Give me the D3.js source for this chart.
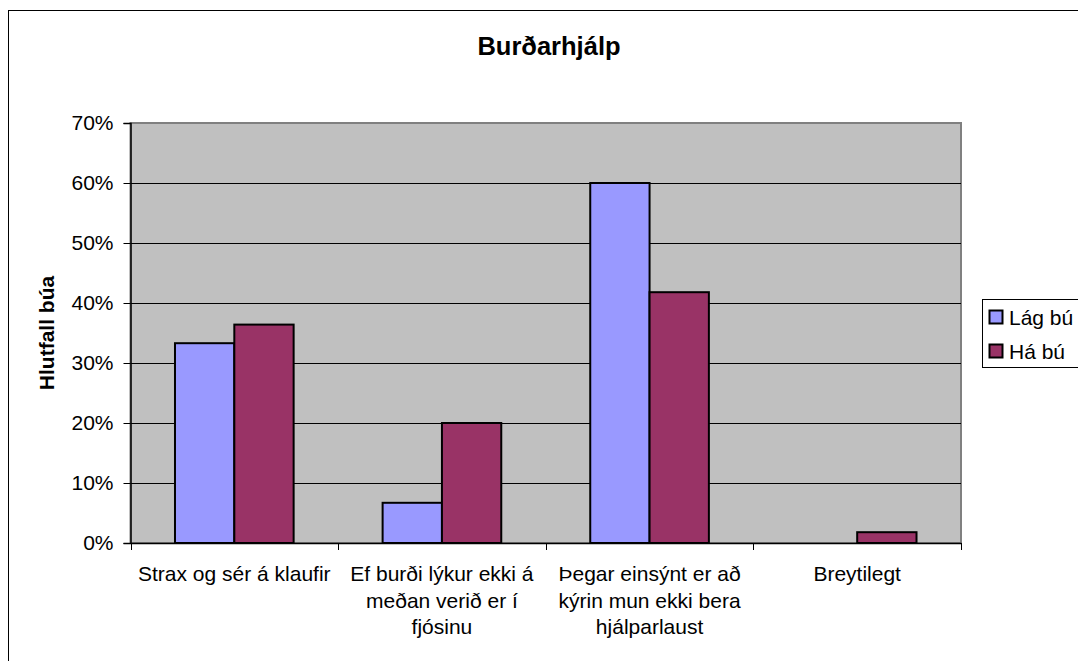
<!DOCTYPE html>
<html>
<head>
<meta charset="utf-8">
<script src="https://cdn.jsdelivr.net/npm/d3@7.9.0/dist/d3.min.js"></script>
<style>
  body { margin: 0; background: #fff; }
  svg { display: block; font-family: Arial, "Liberation Sans", sans-serif; }
</style>
</head>
<body>
<svg id="chart" width="1078" height="661"></svg>
<script>
const categories = [
  "Strax og sér á klaufir",
  "Ef burði lýkur ekki á\nmeðan verið er í\nfjósinu",
  "Þegar einsýnt er að\nkýrin mun ekki bera\nhjálparlaust",
  "Breytilegt"
];
const seriesNames = ["Lág bú", "Há bú"];
const lagBu = [0.333, 0.067, 0.60, 0.0];
const haBu = [0.364, 0.20, 0.418, 0.018];
const yTicks = [0, 0.1, 0.2, 0.3, 0.4, 0.5, 0.6, 0.7];
const colors = ["#9999FF", "#993366"];

const svg = d3.select('#chart');
const plot = { left: 130.5, top: 123, right: 961, bottom: 543 };
const fontSize = 21;

// outer chart border (clipped by window)
svg.append('rect')
  .attr('x', 8.5).attr('y', 10.5)
  .attr('width', 1100).attr('height', 700)
  .attr('fill', '#fff').attr('stroke', '#000').attr('stroke-width', 1);

const x = d3.scaleBand()
  .domain(categories)
  .range([plot.left, plot.right]);

const xInner = d3.scaleBand()
  .domain(seriesNames)
  .range([0, x.bandwidth()])
  .paddingOuter(0.75);

const y = d3.scaleLinear()
  .domain([0, 0.7])
  .range([plot.bottom, plot.top]);

// plot area
svg.append('rect')
  .attr('x', plot.left).attr('y', plot.top)
  .attr('width', plot.right - plot.left).attr('height', plot.bottom - plot.top)
  .attr('fill', '#C0C0C0').attr('stroke', '#808080').attr('stroke-width', 2);

// gridlines
svg.append('g')
  .selectAll('line')
  .data(yTicks.slice(1, -1))
  .join('line')
  .attr('x1', plot.left).attr('x2', plot.right)
  .attr('y1', d => Math.round(y(d)) + 0.5).attr('y2', d => Math.round(y(d)) + 0.5)
  .attr('stroke', '#000').attr('stroke-width', 1);

// bars
const data = categories.map((c, i) => ({ cat: c, values: [lagBu[i], haBu[i]] }));
const groups = svg.append('g')
  .selectAll('g')
  .data(data)
  .join('g')
  .attr('transform', d => `translate(${x(d.cat)},0)`);

groups.selectAll('rect')
  .data(d => d.values.map((v, j) => ({ name: seriesNames[j], value: v, j })).filter(d => d.value > 0))
  .join('rect')
  .attr('x', d => xInner(d.name))
  .attr('width', xInner.bandwidth())
  .attr('y', d => y(d.value))
  .attr('height', d => y(0) - y(d.value))
  .attr('fill', d => colors[d.j])
  .attr('stroke', '#000').attr('stroke-width', 2);

// y axis
const yAxis = svg.append('g')
  .attr('transform', `translate(${plot.left},0)`)
  .call(d3.axisLeft(y).tickValues(yTicks).tickFormat(d3.format('.0%')).tickSizeOuter(0).tickSize(7).tickPadding(10));
yAxis.select('.domain').attr('stroke', '#000').attr('stroke-width', 1.5);
yAxis.selectAll('.tick line').attr('stroke', '#000');
yAxis.selectAll('.tick text').attr('font-size', fontSize).attr('fill', '#000')
  .attr('font-family', 'Arial, "Liberation Sans", sans-serif');

// x axis
const xAxis = svg.append('g')
  .attr('transform', `translate(0,${plot.bottom})`)
  .call(d3.axisBottom(x).tickSize(0).tickFormat(''));
xAxis.select('.domain').attr('stroke', '#000').attr('stroke-width', 1.5);

const bounds = categories.map(c => x(c)).concat([plot.right]);
svg.append('g')
  .selectAll('line')
  .data(bounds)
  .join('line')
  .attr('x1', d => Math.round(d) + 0.5).attr('x2', d => Math.round(d) + 0.5)
  .attr('y1', plot.bottom).attr('y2', plot.bottom + 7)
  .attr('stroke', '#000');

// category labels
svg.append('g')
  .selectAll('text')
  .data(categories)
  .join('text')
  .attr('x', d => x(d) + x.bandwidth() / 2)
  .attr('y', 581)
  .attr('text-anchor', 'middle')
  .attr('font-size', fontSize)
  .selectAll('tspan')
  .data(d => d.split('\n'))
  .join('tspan')
  .attr('x', function () { return d3.select(this.parentNode).attr('x'); })
  .attr('dy', (d, i) => i === 0 ? 0 : 26.5)
  .text(d => d);

// title
svg.append('text')
  .attr('x', 549).attr('y', 55)
  .attr('text-anchor', 'middle')
  .attr('font-size', 25.5).attr('font-weight', 'bold')
  .text('Burðarhjálp');

// y axis title
svg.append('text')
  .attr('transform', `translate(54,${(plot.top + plot.bottom) / 2}) rotate(-90)`)
  .attr('text-anchor', 'middle')
  .attr('font-size', fontSize).attr('font-weight', 'bold')
  .text('Hlutfall búa');

// legend
const legend = svg.append('g').attr('transform', 'translate(982,299)');
legend.append('rect')
  .attr('x', 0.5).attr('y', 0.5).attr('width', 120).attr('height', 68)
  .attr('fill', '#fff').attr('stroke', '#000');
const items = legend.selectAll('g.item')
  .data(seriesNames)
  .join('g')
  .attr('class', 'item')
  .attr('transform', (d, i) => `translate(7,${18 + i * 34})`);
items.append('rect')
  .attr('x', 0.5).attr('y', -6.5).attr('width', 13).attr('height', 13)
  .attr('fill', (d, i) => colors[i]).attr('stroke', '#000').attr('stroke-width', 2);
items.append('text')
  .attr('x', 20).attr('y', 7.5)
  .attr('font-size', fontSize)
  .text(d => d);
</script>
</body>
</html>
